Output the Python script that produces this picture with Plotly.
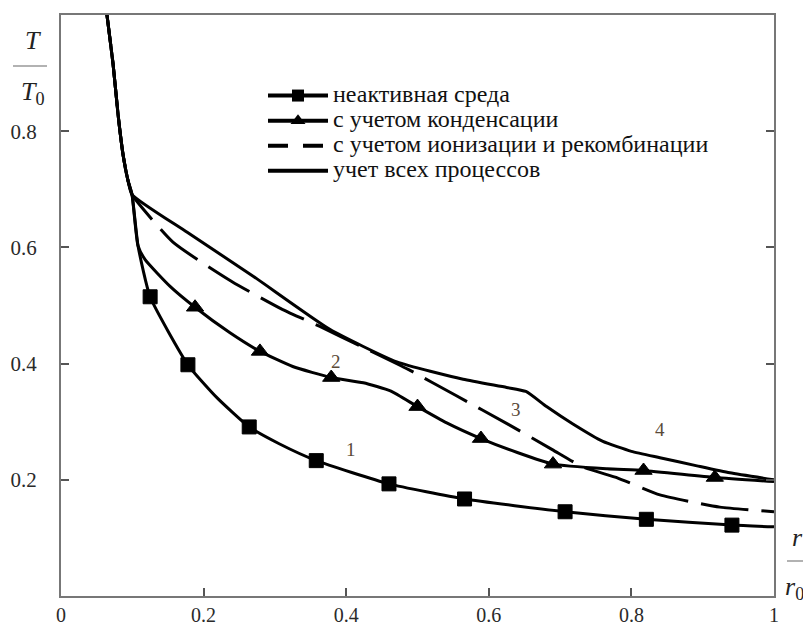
import plotly.graph_objects as go

# ---- data ----
trunk_x = [0.062, 0.0645, 0.073, 0.080, 0.087, 0.094, 0.0996]
trunk_y = [1.03, 1.0, 0.916, 0.829, 0.760, 0.715, 0.691]

# curve 1: inert medium (squares)
c1_x = [0.108, 0.219, 0.306, 1.0]
c1_y = [0.603, 0.341, 0.262, 0.119]
m1_x = [0.125, 0.178, 0.264, 0.358, 0.460, 0.566, 0.707, 0.821, 0.941]
m1_y = [0.515, 0.398, 0.291, 0.233, 0.193, 0.167, 0.145, 0.132, 0.122]

# curve 2: condensation (triangles)
c2_x = [0.108, 0.118, 0.153, 0.237, 0.325, 0.424, 0.462, 0.541, 0.640, 0.766, 1.0]
c2_y = [0.603, 0.579, 0.533, 0.453, 0.395, 0.367, 0.353, 0.298, 0.247, 0.219, 0.197]
m2_x = [0.188, 0.279, 0.379, 0.500, 0.589, 0.690, 0.817, 0.917]
m2_y = [0.497, 0.421, 0.376, 0.326, 0.271, 0.227, 0.216, 0.204]

# curve 3: ionization and recombination (dashed)
c3_x = [0.157, 0.240, 0.311, 0.363, 0.420, 0.487, 0.554, 0.628, 0.689, 0.732,
        0.781, 0.840, 0.924, 1.0]
c3_y = [0.609, 0.541, 0.493, 0.464, 0.430, 0.390, 0.345, 0.295, 0.252, 0.222,
        0.203, 0.174, 0.153, 0.145]

# curve 4: all processes (solid)
c4_x = [0.177, 0.270, 0.377, 0.471, 0.564, 0.625, 0.652, 0.681, 0.718, 0.760,
        0.800, 0.840, 0.892, 0.938, 1.0]
c4_y = [0.626, 0.550, 0.459, 0.403, 0.373, 0.359, 0.352, 0.326, 0.296, 0.266,
        0.249, 0.238, 0.224, 0.212, 0.200]

names = ["неактивная среда", "с учетом конденсации",
         "с учетом ионизации и рекомбинации", "учет всех процессов"]
curve_labels = ["1", "2", "3", "4"]
label_x = [0.407, 0.386, 0.638, 0.840]
label_y = [0.252, 0.403, 0.321, 0.286]

x_ticks = [0, 0.2, 0.4, 0.6, 0.8, 1]
x_ticktext = ["0", "0.2", "0.4", "0.6", "0.8", "1"]
y_ticks = [0.2, 0.4, 0.6, 0.8]
y_ticktext = ["0.2", "0.4", "0.6", "0.8"]


def merged(lx, ly, mx, my, msize):
    pts = [(x, y, 0) for x, y in zip(trunk_x + lx, trunk_y + ly)]
    pts += [(x, y, msize) for x, y in zip(mx, my)]
    pts.sort(key=lambda p: p[0])
    return [p[0] for p in pts], [p[1] for p in pts], [p[2] for p in pts]


SERIF = "Liberation Serif"
LINE = dict(color="black", width=3, shape="spline", smoothing=0.5)
MLINE = dict(color="black", width=1)
fig = go.Figure()

x1, y1, s1 = merged(c1_x, c1_y, m1_x, m1_y, 14)
fig.add_trace(go.Scatter(x=x1, y=y1, mode="lines+markers", showlegend=False, line=LINE,
                         marker=dict(symbol="square", size=s1, color="black", opacity=1,
                                     line=MLINE)))
x2, y2, s2 = merged(c2_x, c2_y, m2_x, m2_y, 15)
fig.add_trace(go.Scatter(x=x2, y=y2, mode="lines+markers", showlegend=False, line=LINE,
                         marker=dict(symbol="triangle-up", size=s2, color="black", opacity=1,
                                     line=MLINE)))
fig.add_trace(go.Scatter(x=trunk_x + c3_x, y=trunk_y + c3_y, mode="lines", showlegend=False,
                         line=dict(LINE, dash="48px,13px")))
fig.add_trace(go.Scatter(x=trunk_x + c4_x, y=trunk_y + c4_y, mode="lines", showlegend=False,
                         line=LINE))


# legend entries (bigger text inside tighter legend rows)
def leg(s):
    return '<span style="font-size:24px">%s</span>' % s


fig.add_trace(go.Scatter(x=[None], y=[None], mode="lines+markers", name=leg(names[0]),
                         line=dict(color="black", width=4),
                         marker=dict(symbol="square", size=12, color="black")))
fig.add_trace(go.Scatter(x=[None], y=[None], mode="lines+markers", name=leg(names[1]),
                         line=dict(color="black", width=4),
                         marker=dict(symbol="triangle-up", size=13, color="black")))
fig.add_trace(go.Scatter(x=[None], y=[None], mode="lines", name=leg(names[2]),
                         line=dict(color="black", width=4, dash="20px,15px")))
fig.add_trace(go.Scatter(x=[None], y=[None], mode="lines", name=leg(names[3]),
                         line=dict(color="black", width=4)))

for t, lx, ly in zip(curve_labels, label_x, label_y):
    fig.add_annotation(x=lx, y=ly, text=t, showarrow=False,
                       font=dict(family=SERIF, size=19, color="#5a4a38"))

# page has an 8px body margin: figure pixel = window pixel - 8
OFF = 8
W, H = 811 - OFF, 624 - OFF
L, T, R, B = 61 - OFF, 15 - OFF, 811 - 774, 624 - 596
PW, PH = W - L - R, H - T - B


def px2paper(px, py):
    return (px - OFF - L) / PW, (H - B - (py - OFF)) / PH


for txt, px, py in [("<i>T</i>", 33, 41), ("<i>T</i><sub>0</sub>", 33, 93),
                    ("<i>r</i>", 797, 537), ("<i>r</i><sub>0</sub>", 795, 588)]:
    xp, yp = px2paper(px, py)
    fig.add_annotation(x=xp, y=yp, xref="paper", yref="paper", text=txt, showarrow=False,
                       xanchor="center", yanchor="middle",
                       font=dict(family=SERIF, size=26, color="#222"))
for ax0, ax1, ay in [(13, 47, 66), (787, 807, 561)]:
    a0, b = px2paper(ax0, ay)
    a1, _ = px2paper(ax1, ay)
    fig.add_shape(type="line", xref="paper", yref="paper", x0=a0, x1=a1, y0=b, y1=b,
                  line=dict(color="#999", width=1.5))

lx0, ly0 = px2paper(263, 78)
fig.update_layout(
    width=W, height=H,
    margin=dict(l=L, r=R, t=T, b=B, autoexpand=False),
    paper_bgcolor="white", plot_bgcolor="white",
    showlegend=True,
    legend=dict(x=lx0, y=ly0, xanchor="left", yanchor="top", itemwidth=60,
                font=dict(family=SERIF, size=17, color="#111"),
                bgcolor="rgba(0,0,0,0)", tracegroupgap=0),
)
fig.update_xaxes(range=[0, 1], tickvals=x_ticks, ticktext=x_ticktext, automargin=False,
                 showline=True, linecolor="#777", linewidth=2, mirror=True,
                 ticks="inside", ticklen=8, tickwidth=2, tickcolor="#555",
                 showgrid=False, zeroline=False,
                 tickfont=dict(family=SERIF, size=20, color="#2a2a2a"))
fig.update_yaxes(range=[0, 1], tickvals=y_ticks, ticktext=y_ticktext, automargin=False,
                 showline=True, linecolor="#777", linewidth=2, mirror="ticks",
                 ticks="inside", ticklen=8, tickwidth=2, tickcolor="#555",
                 showgrid=False, zeroline=False, ticklabelstandoff=18,
                 tickfont=dict(family=SERIF, size=21, color="#2a2a2a"))

fig.write_html("out.html")
